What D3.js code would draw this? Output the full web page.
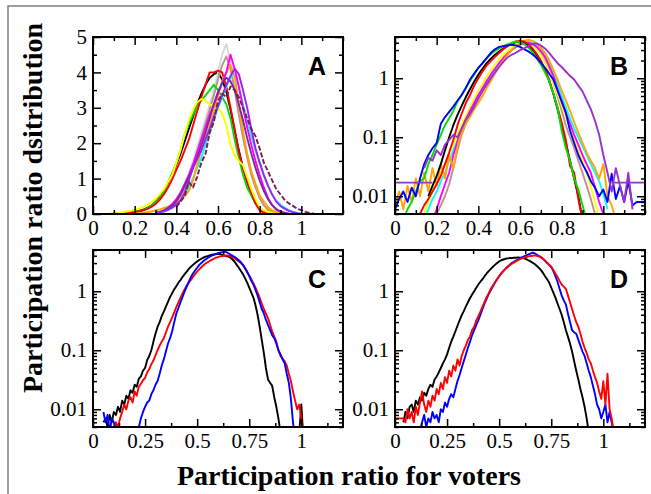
<!DOCTYPE html>
<html><head><meta charset="utf-8">
<script src="https://cdn.jsdelivr.net/npm/d3@7"></script>
<style>body{margin:0;background:#fff;}svg{display:block;}</style>
</head><body>
<script>
// ---------- tick definitions ----------
const xTicksAB = [0, 0.2, 0.4, 0.6, 0.8, 1];
const xTickLabelsAB = ["0", "0.2", "0.4", "0.6", "0.8", "1"];
const xTicksCD = [0, 0.25, 0.5, 0.75, 1];
const xTickLabelsCD = ["0", "0.25", "0.5", "0.75", "1"];
const yTicksA = [0, 1, 2, 3, 4, 5];
const yTickLabelsA = ["0", "1", "2", "3", "4", "5"];
const yTicksLog = [0.01, 0.1, 1];
const yTickLabelsLog = ["0.01", "0.1", "1"];
const panelLabels = ["A", "B", "C", "D"];
const xTitle = "Participation ratio for voters";
const yTitle = "Participation ratio dsitribution";

// bin width of the histograms
const STEP_AB = 0.02;
const STEP_CD = 0.01;

// ---------- panel A (linear) ----------
const aBlack = [0,0,0,0,0, 0.01,0.02,0.03,0.04,0.05,0.07,0.09,0.12,0.17,0.24,
  0.34,0.47,0.65,0.88,1.12,1.4,1.7,2.05,2.4,2.75, 3.1,3.4,3.65,3.85,3.95,4.0,3.8,3.45,2.95,2.35,
  1.8,1.3,0.9,0.55,0.3,0.14,0.06,0.03,0.01,0, 0,0,0,0,0,0,0,0,0,0,0,0,0,0,0,0];
const aYellow = [0,0,0,0,0.01, 0.02,0.03,0.05,0.07,0.09,0.12,0.15,0.2,0.26,0.33,
  0.42,0.55,0.7,0.9,1.1,1.45,1.8,2.25,2.65,2.95, 3.15,3.25,3.2,3.1,3.05,3.0,2.85,2.5,1.95,1.65,
  1.5,1.38,1.05,0.7,0.42,0.2,0.1,0.05,0.03,0.02, 0.01,0,0,0,0,0,0,0,0,0,0,0,0,0,0,0];
const aGreen = [0.01,0.01,0.02,0.03,0.04,0.06,0.08,0.11,0.16,0.24,
  0.33,0.45,0.62,0.9,1.15,1.45,1.8,2.25,2.55,2.8, 3.05,3.2,3.35,3.5,3.65,3.5,3.3,3.1,2.7,2.1,
  1.6,1.1,0.75,0.52,0.32,0.14,0.06,0.03,0.01,0];
const aRed = [0.01,0.01,0.02,0.03,0.04,0.05,0.07,0.1,0.14,0.2,
  0.28,0.4,0.55,0.75,0.98,1.25,1.5,1.8,2.1,2.5, 2.9,3.3,3.65,4.0,4.0,4.05,4.0,3.6,3.0,2.4,
  1.75,1.3,0.92,0.6,0.3,0.1,0.04,0.02,0.01,0];
const aGray = [0.02,0.04,0.08,0.15,0.25,0.4,0.6,0.85,1.15,1.5, 1.9,2.3,2.7,3.1,3.5,4.0,4.5,4.8,4.3,3.6,
  2.9,2.2,1.7,1.2,0.85,0.5,0.25,0.12,0.06,0.03, 0.01,0];
const aRosy = [0.01,0.03,0.06,0.12,0.2,0.33,0.5,0.72,1.0,1.35, 1.75,2.15,2.55,2.95,3.35,3.8,4.2,4.45,4.1,3.5,
  2.8,2.15,1.6,1.1,0.75,0.45,0.25,0.12,0.06,0.03, 0.01,0];
const aOrange = [0.01,0.02,0.03,0.05,0.07,0.1,0.13,0.17,0.21,0.25, 0.32,0.4,0.5,0.65,0.95,1.4,1.8,2.15,2.5,2.9,
  3.35,3.75,4.0,4.2,3.9,3.1,2.35,1.7,1.2,0.85, 0.53,0.35,0.2,0.1,0.05,0.02,0.01,0];
const aMagenta = [0.02,0.05,0.1,0.18,0.28,0.42,0.6,0.85,1.1,1.4, 1.75,2.1,2.45,2.8,3.1,3.4,3.7,4.0,4.5,4.1,
  3.6,3.0,2.45,1.95,1.5,1.1,0.75,0.45,0.25,0.12, 0.06,0.03,0.01,0];
const aCyan = [0.02,0.04,0.07,0.11,0.17,0.25,0.38,0.55,0.75,1.0, 1.3,1.6,1.95,2.3,2.65,3.0,3.3,3.6,3.85,3.95,
  3.6,3.1,2.65,2.2,1.8,1.45,1.1,0.8,0.55,0.37, 0.26,0.18,0.11,0.06,0.03,0.01];
const aPurple = [0.03,0.05,0.08,0.12,0.18,0.27,0.38,0.6,0.95,1.3, 1.55,1.8,2.1,2.4,2.75,3.05,3.35,3.65,3.9,4.1,
  3.95,3.5,3.0,2.4,1.85,1.45,1.1,0.8,0.55,0.35, 0.22,0.15,0.09,0.05,0.02,0.01];
const aDarkPurple = [0.03,0.06,0.1,0.16,0.24,0.36,0.55,0.8,1.05,1.3, 1.6,1.95,2.3,2.7,3.1,3.45,3.7,3.85,3.75,3.5,
  3.1,2.65,2.15,1.7,1.3,0.95,0.65,0.42,0.25,0.14, 0.07,0.03,0.01,0];
const aMaroon = [0.2,0.35,0.5,0.9,0.75,1.05,1.45,1.7,2.3,2.6, 3.2,3.4,3.3,3.6,3.5,3.3,3.0,2.7,2.4,2.2,
  1.85,1.45,1.2,0.95,0.7,0.55,0.4,0.3,0.23,0.15, 0.11,0.06,0.03,0.01];

// ---------- panel B (log) ----------
const bBlue = [0.006,0.009,0.012,0.008,0.014,0.01,0.02,0.035,0.05,0.065,
  0.08,0.17,0.22,0.27,0.33,0.42,0.52,0.68,0.95,1.2, 1.5,1.8,2.2,2.7,3.1,3.4,3.5,3.6,3.7,3.6,
  3.4,3.1,2.85,2.55,2.2,1.85,1.5,1.2,0.95,0.62, 0.4,0.26,0.13,0.08,0.05,0.035,0.026,0.018,0.014,0.01,
  0.013,0.008,0.024,0.009,0.015,0.008,0.018,0.007,0.008,0.008,0.008];
const bGreen = [0.004,0.006,0.008,0.012,0.018,0.02,0.035,0.05,
  0.075,0.11,0.16,0.21,0.28,0.4,0.52,0.7,0.9,1.15, 1.5,1.8,2.2,2.55,2.9,3.2,3.5,3.75,4.0,4.2,
  4.1,3.8,3.3,2.8,2.2,1.7,1.25,0.9,0.55,0.32, 0.13,0.065,0.04,0.02,0.013,0.007,0.004];
const bRed = [0.004,0.005,0.007,0.009,0.012,
  0.016,0.022,0.035,0.055,0.09,0.16,0.25,0.38,0.52,0.75, 1.0,1.3,1.65,1.95,2.3,2.7,3.1,3.5,3.9,4.2,
  4.3,4.2,3.8,3.2,2.6,2.0,1.4,0.95,0.55,0.32, 0.18,0.09,0.033,0.025,0.009,0.004];
const bBlack = [0.01,0.015,
  0.022,0.035,0.06,0.1,0.16,0.24,0.34,0.48,0.65,0.88, 1.15,1.45,1.8,2.15,2.5,2.85,3.2,3.55,3.85,4.1,
  4.2,4.0,3.6,3.05,2.45,1.85,1.35,0.9,0.55,0.3, 0.15,0.08,0.04,0.02,0.01,0.004];
const bMagenta = [0.003,0.004,
  0.006,0.01,0.016,0.025,0.05,0.085,0.14,0.2,0.28,0.38, 0.52,0.68,0.9,1.15,1.45,1.8,2.2,2.6,3.0,3.4,
  3.7,3.9,4.0,3.8,3.4,2.9,2.3,1.6,1.1,0.65, 0.42,0.26,0.17,0.11,0.075,0.05,0.035,0.025,0.014,0.008, 0.005];
const bOrange = [0.007,0.012,0.006,0.015,0.008,0.02,0.01,0.025,0.012,0.03,
  0.015,0.035,0.02,0.05,0.03,0.07,0.12,0.17,0.22,0.3, 0.38,0.5,0.68,0.9,1.2,1.6,2.0,2.5,3.0,3.5,
  3.9,4.3,4.5,4.3,3.9,3.3,2.7,2.0,1.4,0.95, 0.62,0.42,0.28,0.18,0.12,0.08,0.055,0.04,0.03,0.02,
  0.035,0.01,0.007,0.004];
const bCyan = [0.004,0.006,0.009,
  0.012,0.018,0.025,0.04,0.06,0.09,0.13,0.19,0.27,0.37, 0.5,0.66,0.85,1.1,1.4,1.75,2.15,2.6,3.0,3.4,
  3.7,3.95,4.1,4.0,3.7,3.2,2.6,1.9,1.25,0.8, 0.5,0.32,0.21,0.14,0.1,0.07,0.05,0.035,0.025,0.018, 0.011,0.006];
const bYellow = [0.005,0.008,0.012,
  0.018,0.025,0.035,0.05,0.075,0.11,0.16,0.23,0.32,0.45, 0.6,0.8,1.05,1.35,1.7,2.1,2.5,2.9,3.3,3.6,
  3.9,4.0,3.9,3.6,3.1,2.5,1.85,1.3,0.85,0.55, 0.35,0.22,0.14,0.09,0.06,0.04,0.025,0.015,0.008,0.004];
const bTan = [0.003,
  0.005,0.007,0.01,0.016,0.03,0.06,0.11,0.17,0.25,0.35, 0.48,0.64,0.85,1.1,1.4,1.75,2.15,2.55,3.0,3.4,
  3.75,4.0,4.1,3.9,3.4,2.7,2.0,1.35,0.85,0.5, 0.28,0.16,0.1,0.065,0.04,0.025,0.015,0.009,0.005];
const bPurple = [0.03,0.045,0.04,
  0.06,0.05,0.075,0.09,0.11,0.1,0.14,0.2,0.25,0.33, 0.45,0.6,0.78,1.0,1.25,1.55,1.9,2.25,2.5,2.7,
  3.0,3.2,3.5,3.8,3.9,3.6,3.2,2.7,2.2,1.8, 1.55,1.3,1.1,0.95,0.75,0.6,0.42,0.3,0.19,0.11,
  0.05,0.025,0.012,0.03,0.015,0.008,0.025,0.006];
const bPurpleFloorLeft = [0.017,0.017,0.017,0.017,0.017,0.017,0.017,0.017,0.017,0.017];
const bPurpleFloorRight = [0.017,0.017,0.017,0.017,0.017,0.017,0.017,0.017,0.017];

// ---------- panel C (log) ----------
const cBlack = [0.006,0.007,0.005,0.008,0.006,0.009,0.008,0.011,0.009,0.014,
  0.012,0.017,0.015,0.021,0.019,0.026,0.024,0.033,0.036,0.045,
  0.05,0.068,0.08,0.1,0.14,0.19,0.25,0.3,0.38,0.45,
  0.55,0.66,0.8,0.93,1.08,1.22,1.4,1.55,1.75,1.95,
  2.15,2.4,2.6,2.8,3.0,3.2,3.4,3.55,3.7,3.85,
  3.95,4.05,4.15,4.2,4.25,4.3,4.25,4.15,4.05,3.95,
  3.85,3.7,3.45,3.15,2.8,2.5,2.2,1.95,1.65,1.4,
  1.15,0.95,0.78,0.58,0.4,0.25,0.15,0.09,0.05,0.032,
  0.028,0.025,0.016,0.011,0.007,0.004,0.003,0.002,0.002,0.002,
  0.002,0.002,0.002,0.003,0.004,0.012,0.003];
const cBlue = [0.009,0.006,0.008,0.004,0.007,0.006,0.004,0.003,0.003,0.003,
  0.003,0.003,0.003,0.003,0.003,0.003,0.004,0.005,0.007,0.009,
  0.011,0.013,0.014,0.018,0.021,0.026,0.03,0.04,0.055,0.07,
  0.095,0.13,0.16,0.21,0.3,0.42,0.52,0.65,0.8,1.0,
  1.2,1.45,1.74,2.0,2.25,2.5,2.8,3.0,3.25,3.45,
  3.65,3.85,4.0,4.15,4.3,4.4,4.5,4.6,4.7,4.6,
  4.4,4.2,4.0,3.8,3.6,3.35,3.1,2.8,2.45,2.1,
  1.8,1.5,1.3,1.05,0.85,0.65,0.5,0.42,0.33,0.27,
  0.22,0.18,0.16,0.13,0.1,0.085,0.07,0.06,0.04,0.028,
  0.015,0.006,0.003,0.002];
const cRed = [0.004,0.006,0.005,0.007,0.009,0.012,0.01,0.014,0.016,0.013,
  0.02,0.017,0.024,0.027,0.031,0.034,0.042,0.048,0.058,0.067,
  0.082,0.1,0.12,0.14,0.16,0.2,0.25,0.3,0.36,0.44,
  0.54,0.65,0.78,0.92,1.08,1.25,1.4,1.55,1.75,1.95,
  2.15,2.35,2.55,2.75,2.95,3.1,3.25,3.4,3.55,3.7,
  3.8,3.9,3.95,4.0,4.05,4.0,3.95,3.8,3.6,3.4,
  3.2,3.0,2.75,2.45,2.15,1.85,1.6,1.35,1.15,0.95,
  0.78,0.62,0.5,0.42,0.35,0.27,0.21,0.17,0.14,0.1,
  0.08,0.072,0.065,0.055,0.04,0.03,0.02,0.014,0.01,0.012,
  0.007,0.004];

// ---------- panel D (log) ----------
const dBlack = [0.006,0.009,0.007,0.011,0.012,0.009,0.014,0.012,0.016,0.014,
  0.019,0.017,0.022,0.026,0.024,0.032,0.036,0.042,0.05,0.06,
  0.07,0.085,0.11,0.14,0.17,0.21,0.26,0.32,0.39,0.46,
  0.55,0.65,0.76,0.88,1.0,1.15,1.3,1.45,1.6,1.8,
  2.0,2.2,2.4,2.6,2.8,3.0,3.2,3.35,3.45,3.55,
  3.6,3.65,3.65,3.7,3.7,3.75,3.7,3.7,3.6,3.5,
  3.35,3.2,3.05,2.9,2.7,2.5,2.3,2.05,1.8,1.6,
  1.4,1.15,0.95,0.78,0.62,0.5,0.4,0.3,0.22,0.17,
  0.13,0.095,0.065,0.045,0.032,0.022,0.016,0.011,0.007,0.004];
const dBlue = [0.003,0.005,0.004,0.006,0.008,0.005,0.007,0.006,0.009,0.007,
  0.008,0.006,0.01,0.009,0.013,0.011,0.015,0.018,0.016,0.022,
  0.03,0.038,0.05,0.065,0.085,0.11,0.14,0.18,0.22,0.27,
  0.32,0.4,0.5,0.62,0.75,0.9,1.05,1.2,1.4,1.6,
  1.8,2.0,2.2,2.4,2.6,2.8,3.0,3.15,3.3,3.45,
  3.6,3.75,3.9,4.05,4.2,4.35,4.5,4.4,4.2,4.0,
  3.8,3.55,3.3,3.0,2.8,2.6,2.2,1.8,1.45,1.1,
  0.85,0.7,0.6,0.42,0.3,0.22,0.2,0.19,0.15,0.12,
  0.095,0.08,0.06,0.045,0.035,0.025,0.018,0.012,0.01,0.007,
  0.009,0.012,0.006,0.009,0.006,0.004];
const dRed = [0.007,0.007,0.007,0.007,0.007,0.006,0.01,0.007,0.009,0.006,
  0.011,0.008,0.013,0.02,0.012,0.009,0.014,0.011,0.017,0.014,
  0.022,0.018,0.028,0.022,0.035,0.028,0.045,0.036,0.055,0.045,
  0.07,0.055,0.08,0.1,0.12,0.15,0.17,0.22,0.25,0.32,
  0.38,0.45,0.55,0.66,0.8,0.92,1.1,1.25,1.42,1.6,
  1.8,2.0,2.2,2.4,2.55,2.75,2.9,3.05,3.2,3.35,
  3.5,3.6,3.7,3.8,3.9,3.95,4.0,4.05,4.0,3.9,
  3.75,3.55,3.3,3.05,2.8,2.55,2.3,2.0,1.75,1.5,
  1.3,1.2,1.1,0.85,0.65,0.5,0.38,0.3,0.25,0.19,
  0.14,0.11,0.09,0.07,0.06,0.045,0.035,0.028,0.02,0.015,
  0.03,0.012,0.04,0.01,0.007,0.004];

// series tables (start = first bin centre)
const seriesA = [
  {color: "#000000", start: 0.0, values: aBlack},
  {color: "#d8d8d8", start: 0.30, values: aGray},
  {color: "#c09090", start: 0.30, values: aRosy},
  {color: "#00e000", start: 0.10, values: aGreen},
  {color: "#ff0000", start: 0.10, values: aRed},
  {color: "#ffff00", start: 0.0, values: aYellow},
  {color: "#00ffff", start: 0.30, values: aCyan},
  {color: "#ffa500", start: 0.20, values: aOrange},
  {color: "#ff00ff", start: 0.30, values: aMagenta},
  {color: "#7a2a9a", start: 0.30, values: aDarkPurple},
  {color: "#a020f0", start: 0.30, values: aPurple},
  {color: "#7b1c4c", start: 0.40, values: aMaroon, dash: "5,2"}
];
const seriesB = [
  {color: "#c09090", start: 0.18, values: bTan},
  {color: "#ffff00", start: 0.14, values: bYellow},
  {color: "#00ffff", start: 0.14, values: bCyan},
  {color: "#ff00ff", start: 0.16, values: bMagenta},
  {color: "#ffa500", start: 0.0, values: bOrange},
  {color: "#000000", start: 0.16, values: bBlack},
  {color: "#ff0000", start: 0.10, values: bRed},
  {color: "#00e000", start: 0.04, values: bGreen},
  {color: "#0000ff", start: 0.0, values: bBlue},
  {color: "#9932cc", start: 0.14, values: bPurple},
  {color: "#9932cc", start: 0.0, values: bPurpleFloorLeft},
  {color: "#9932cc", start: 1.04, values: bPurpleFloorRight}
];
const seriesC = [
  {color: "#000000", start: 0.05, values: cBlack},
  {color: "#ff0000", start: 0.10, values: cRed},
  {color: "#0000ff", start: 0.05, values: cBlue}
];
const seriesD = [
  {color: "#000000", start: 0.04, values: dBlack},
  {color: "#0000ff", start: 0.10, values: dBlue},
  {color: "#ff0000", start: 0.0, values: dRed}
];

// ---------- drawing ----------
const W = 651, H = 494;
const PW = 250, PH = 177;
const svg = d3.select("body").append("svg").attr("width", W).attr("height", H);
svg.append("rect").attr("width", W).attr("height", H).attr("fill", "#fff");
svg.append("rect").attr("x", 8).attr("y", 6).attr("width", 700).attr("height", 600)
  .attr("fill", "none").attr("stroke", "#808080").attr("stroke-width", 1.5);

const panels = [
  {label: panelLabels[0], left: 93, top: 37, log: false, series: seriesA, step: STEP_AB,
   xTicks: xTicksAB, xLabels: xTickLabelsAB, xMinorStep: 0.1},
  {label: panelLabels[1], left: 395, top: 37, log: true, series: seriesB, step: STEP_AB,
   xTicks: xTicksAB, xLabels: xTickLabelsAB, xMinorStep: 0.1},
  {label: panelLabels[2], left: 93, top: 250, log: true, series: seriesC, step: STEP_CD,
   xTicks: xTicksCD, xLabels: xTickLabelsCD, xMinorStep: 0.125},
  {label: panelLabels[3], left: 395, top: 250, log: true, series: seriesD, step: STEP_CD,
   xTicks: xTicksCD, xLabels: xTickLabelsCD, xMinorStep: 0.125}
];

function styleAxis(sel) {
  sel.select(".domain").remove();
  sel.selectAll(".tick line").attr("stroke", "#000").attr("stroke-width", 1.5);
  sel.attr("font-family", "'Liberation Serif', 'Times New Roman', serif").attr("font-size", 21);
  sel.selectAll(".tick text").attr("fill", "#000");
}

panels.forEach((p, pi) => {
  const g = svg.append("g").attr("transform", `translate(${p.left},${p.top})`);
  const x = d3.scaleLinear().domain([0, 1.2]).range([0, PW]);
  const y = p.log ? d3.scaleLog().domain([0.005, 5]).range([PH, 0])
                  : d3.scaleLinear().domain([0, 5]).range([PH, 0]);
  const clipId = "clip" + pi;
  g.append("clipPath").attr("id", clipId).append("rect").attr("width", PW).attr("height", PH);

  const plot = g.append("g").attr("clip-path", `url(#${clipId})`);
  p.series.forEach(s => {
    const line = d3.line()
      .defined(d => d != null && (!p.log || d > 0))
      .x((d, i) => x(s.start + i * p.step))
      .y(d => y(d));
    plot.append("path").datum(s.values)
      .attr("d", line)
      .attr("fill", "none")
      .attr("stroke", s.color)
      .attr("stroke-width", 1.9)
      .attr("stroke-linejoin", "round")
      .attr("stroke-dasharray", s.dash || null);
  });

  // minor tick positions
  const xMinor = d3.range(0, 1.2001, p.xMinorStep).filter(v => !p.xTicks.some(t => Math.abs(t - v) < 1e-6));
  const yMinor = p.log
    ? y.ticks().filter(v => !yTicksLog.some(t => Math.abs(t - v) / t < 1e-6))
    : d3.range(0.5, 5, 1);
  const yMajor = p.log ? yTicksLog : yTicksA;
  const yLabels = p.log ? yTickLabelsLog : yTickLabelsA;
  const MAJ = 8, MIN = 4;

  g.append("g").attr("transform", `translate(0,${PH})`)
    .call(d3.axisBottom(x).tickValues(p.xTicks).tickFormat((d, i) => p.xLabels[i])
      .tickSizeInner(-MAJ).tickSizeOuter(0).tickPadding(6)).call(styleAxis);
  g.append("g").attr("transform", `translate(0,${PH})`)
    .call(d3.axisBottom(x).tickValues(xMinor).tickFormat("").tickSize(-MIN)).call(styleAxis);
  g.append("g")
    .call(d3.axisTop(x).tickValues(p.xTicks).tickFormat("").tickSize(-MAJ)).call(styleAxis);
  g.append("g")
    .call(d3.axisTop(x).tickValues(xMinor).tickFormat("").tickSize(-MIN)).call(styleAxis);
  g.append("g")
    .call(d3.axisLeft(y).tickValues(yMajor).tickFormat((d, i) => yLabels[i])
      .tickSizeInner(-MAJ).tickSizeOuter(0).tickPadding(6)).call(styleAxis);
  g.append("g")
    .call(d3.axisLeft(y).tickValues(yMinor).tickFormat("").tickSize(-MIN)).call(styleAxis);
  g.append("g").attr("transform", `translate(${PW},0)`)
    .call(d3.axisRight(y).tickValues(yMajor).tickFormat("").tickSize(-MAJ)).call(styleAxis);
  g.append("g").attr("transform", `translate(${PW},0)`)
    .call(d3.axisRight(y).tickValues(yMinor).tickFormat("").tickSize(-MIN)).call(styleAxis);

  g.append("rect").attr("width", PW).attr("height", PH)
    .attr("fill", "none").attr("stroke", "#000").attr("stroke-width", 2);

  g.append("text").attr("x", PW - 17).attr("y", 38)
    .attr("text-anchor", "end")
    .attr("font-family", "'Liberation Sans', Arial, sans-serif")
    .attr("font-weight", "bold").attr("font-size", 25)
    .text(p.label);
});

svg.append("text").attr("x", 349).attr("y", 485)
  .attr("text-anchor", "middle")
  .attr("font-family", "'Liberation Serif', 'Times New Roman', serif")
  .attr("font-weight", "bold").attr("font-size", 28)
  .text(xTitle);
svg.append("text").attr("transform", "translate(42,208) rotate(-90)")
  .attr("text-anchor", "middle")
  .attr("font-family", "'Liberation Serif', 'Times New Roman', serif")
  .attr("font-weight", "bold").attr("font-size", 28)
  .text(yTitle);
</script>
</body></html>
